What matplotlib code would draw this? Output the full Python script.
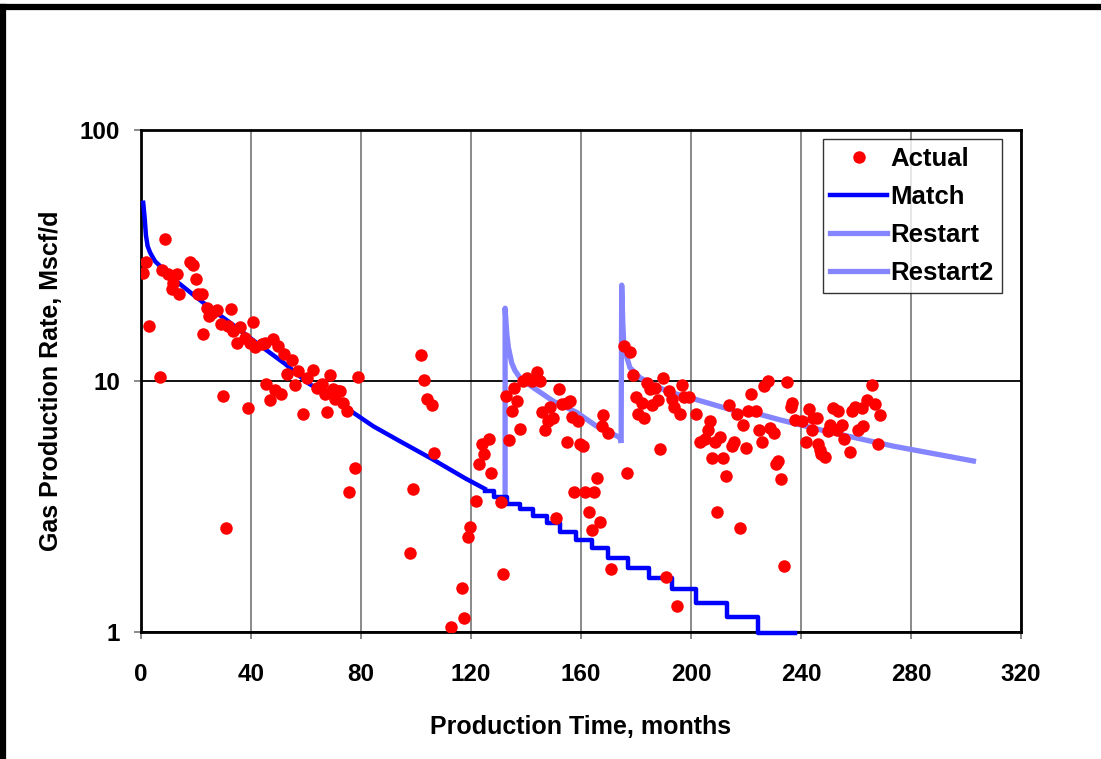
import matplotlib
matplotlib.use("Agg")
import matplotlib.pyplot as plt
from matplotlib.lines import Line2D

plt.rcParams['font.family'] = ['Liberation Sans', 'DejaVu Sans']
plt.rcParams['font.weight'] = 'bold'

# actual production data (month, Mscf/d)
actual_t = [0.8, 1.8, 2.9, 6.9, 7.7, 8.7, 9.9, 11.2, 11.8, 13.0, 13.8, 17.8, 19.0, 19.9,
            20.8, 22.0, 22.7, 23.9, 24.7, 25.7, 27.5, 29.1, 29.7, 30.8, 31.7, 32.7, 33.5,
            34.8, 36.0, 37.8, 39.0, 39.6, 40.8, 41.5, 43.9, 45.1, 45.5, 46.9, 48.1, 48.7,
            49.9, 50.8, 52.1, 53.0, 54.8, 56.0, 57.2, 58.8, 60.2, 62.4, 63.9, 65.7, 66.9,
            67.7, 68.7, 69.9, 70.5, 71.7, 72.4, 73.6, 74.8, 75.8, 77.9, 78.8, 97.8, 98.8,
            101.8, 102.9, 103.9, 105.7, 106.7, 112.7, 116.8, 117.6, 118.8, 119.8, 121.8,
            122.8, 123.9, 124.8, 126.5, 127.3, 130.8, 131.8, 132.7, 133.8, 134.8, 135.7,
            136.8, 137.8, 139.0, 140.2, 142.1, 143.9, 145.1, 145.7, 146.9, 148.1, 148.7,
            149.9, 150.8, 152.0, 153.0, 154.8, 154.8, 156.0, 156.8, 157.6, 159.0, 159.6,
            160.8, 161.5, 162.9, 163.9, 164.8, 165.7, 166.9, 167.5, 168.1, 169.9, 170.8,
            175.7, 176.8, 177.8, 178.8, 179.9, 180.8, 182.1, 183.0, 183.9, 185.1, 185.9,
            186.9, 187.9, 188.7, 189.9, 190.8, 192.0, 193.0, 193.9, 194.8, 196.0, 196.6,
            197.6, 199.1, 201.8, 203.3, 205.1, 206.3, 206.9, 207.5, 208.7, 209.5, 210.5,
            211.7, 212.7, 213.8, 214.8, 215.7, 216.8, 217.8, 218.8, 219.9, 220.8, 221.8,
            223.5, 224.7, 225.9, 226.7, 227.9, 228.7, 230.0, 230.8, 231.7, 232.7, 233.7,
            234.8, 236.4, 236.8, 237.8, 240.2, 241.8, 242.9, 243.9, 244.5, 245.7, 246.3,
            246.9, 247.3, 248.7, 249.7, 250.5, 251.8, 253.0, 253.6, 254.8, 255.7, 257.8,
            258.4, 259.6, 260.8, 262.1, 262.7, 263.9, 265.9, 266.9, 267.9, 268.7]
actual_q = [27.0, 29.9, 16.6, 10.4, 27.7, 36.7, 26.6, 23.2, 24.6, 26.7, 22.2, 29.9, 29.0, 25.6,
            22.2, 22.2, 15.4, 19.6, 18.1, 18.7, 19.1, 16.8, 8.7, 2.6, 16.6, 19.4, 15.8,
            14.2, 16.4, 14.9, 7.8, 14.2, 17.2, 13.6, 14.0, 14.2, 9.7, 8.4, 14.7, 9.2,
            13.8, 8.9, 12.8, 10.7, 12.1, 9.6, 11.0, 7.4, 10.3, 11.1, 9.4, 9.7, 8.9,
            7.5, 10.6, 9.3, 8.5, 9.1, 9.1, 8.2, 7.6, 3.6, 4.5, 10.4, 2.07, 3.7,
            12.7, 10.1, 8.5, 8.0, 5.15, 1.05, 1.5, 1.14, 2.39, 2.63, 3.32,
            4.69, 5.6, 5.1, 5.9, 4.3, 3.3, 1.7, 8.7, 5.8, 7.6, 9.4,
            8.3, 6.46, 10.0, 10.3, 10.0, 10.9, 10.0, 7.5, 6.4, 6.9, 7.9,
            7.1, 2.85, 9.3, 8.1, 8.2, 5.7, 8.3, 7.2, 3.6, 6.9, 5.6,
            5.5, 3.6, 3.0, 2.56, 3.6, 4.1, 2.75, 6.6, 7.3, 6.2, 1.78,
            13.8, 4.3, 13.1, 10.6, 8.6, 7.4, 8.2, 7.1, 9.8, 9.3, 8.0,
            9.4, 8.4, 5.35, 10.3, 1.66, 9.1, 8.5, 7.9, 1.27, 7.4, 9.6,
            8.6, 8.6, 7.4, 5.7, 5.9, 6.4, 6.9, 4.95, 5.7, 3.0, 6.0,
            4.95, 4.2, 8.0, 5.5, 5.7, 7.4, 2.6, 6.7, 5.4, 7.6, 8.85,
            7.6, 6.4, 5.7, 9.55, 10.0, 6.5, 6.2, 4.66, 4.8, 4.06, 1.83,
            9.9, 7.9, 8.2, 7.0, 6.9, 5.7, 7.7, 6.4, 7.1, 7.1, 5.6,
            5.3, 5.1, 5.0, 6.3, 6.7, 7.8, 6.4, 7.6, 6.7, 5.9, 5.2,
            7.6, 7.9, 6.4, 7.8, 6.6, 8.4, 9.6, 8.1, 5.6, 7.3]

# history match, smooth part
match_t = [0.8, 1.3, 1.8, 2.4, 3.3, 5.1, 8.1, 13.6, 19.6, 25.7, 31.7, 37.8, 42.7, 52.4,
           60.8, 69.3, 77.8, 84.5, 93.6, 105.7, 117.8, 125.0]
match_q = [51.3, 45.0, 38.0, 34.5, 32.5, 30.0, 27.9, 24.6, 21.8, 19.3, 17.3, 15.4, 14.0, 11.7,
           9.8, 8.6, 7.4, 6.6, 5.8, 4.9, 4.1, 3.72]
# history match, stepped tail
step_t = [125.0, 128.5, 133.0, 137.8, 142.7, 147.5, 152.4, 158.1, 163.9, 169.9, 177.2,
          184.7, 193.2, 201.7, 213.0, 224.5, 237.8]
step_q = [3.65, 3.45, 3.25, 3.09, 2.90, 2.73, 2.51, 2.32, 2.17, 1.98, 1.80,
          1.64, 1.49, 1.31, 1.15, 0.99, 0.99]

restart_t = [132.4, 132.4, 133.0, 133.6, 134.8, 136.0, 137.8, 142.7, 150.0, 158.4, 165.7,
             174.2, 174.4]
restart_q = [3.45, 19.5, 15.5, 13.6, 11.8, 11.0, 10.3, 9.4, 8.3, 7.5, 6.6, 5.95, 5.8]

restart2_t = [174.6, 174.8, 175.2, 175.6, 177.8, 181.5, 191.2, 200.8, 217.8, 225.1, 232.4,
              249.3, 273.6, 302.7]
restart2_q = [5.8, 24.1, 17.0, 13.6, 11.3, 10.3, 9.1, 8.5, 7.5, 7.36, 7.0, 6.3, 5.5, 4.8]

fig = plt.figure(figsize=(11.01, 7.59), dpi=100)
ax = fig.add_axes([141 / 1101, 1 - 632 / 759, 880 / 1101, 502 / 759])

light = '#8585ff'
ax.plot(actual_t, actual_q, 'o', color='red', markersize=9, markeredgewidth=0,
        label='Actual', zorder=4)
ax.plot(match_t, match_q, color='blue', lw=3.2, label='Match', zorder=3)
ax.plot(step_t, step_q, color='blue', lw=3.2, drawstyle='steps-post', zorder=3,
        clip_on=False)
ax.plot(restart_t, restart_q, color=light, lw=3.8, label='Restart', zorder=2)
ax.plot(restart2_t, restart2_q, color=light, lw=3.8, label='Restart2', zorder=2)

ax.set_yscale('log')
ax.set_ylim(1, 100)
ax.set_xlim(0, 320)
ax.set_xticks(range(0, 321, 40))
ax.set_yticks([1, 10, 100])
ax.set_yticklabels(['1', '10', '100'])
ax.minorticks_off()

ax.grid(axis='x', color='#808080', lw=1.3)
ax.grid(axis='y', color='black', lw=1.3)
ax.set_axisbelow(True)
for s in ax.spines.values():
    s.set_linewidth(2)
ax.tick_params(labelsize=17.5, length=5, width=1.3, color='#808080')
ax.tick_params(axis='x', pad=17)
ax.tick_params(axis='y', pad=10)

ax.set_xlabel('Production Time, months', fontsize=18, fontweight='bold', labelpad=21)
ax.set_ylabel('Gas Production Rate, Mscf/d', fontsize=18, fontweight='bold', labelpad=12)

leg = ax.legend(loc='upper right', bbox_to_anchor=(0.978, 0.982), borderaxespad=0,
                fontsize=18.5, frameon=True, fancybox=False, handlelength=2.2,
                handletextpad=0.15, labelspacing=0.55, borderpad=0.3)
leg.get_frame().set_edgecolor('black')
leg.get_frame().set_linewidth(1)

# outer chart frame (only top and left show)
fig.add_artist(Line2D([0, 1], [1 - 7 / 759, 1 - 7 / 759], color='black', lw=4.5))
fig.add_artist(Line2D([3 / 1101, 3 / 1101], [0, 1 - 7 / 759], color='black', lw=4.5))

fig.savefig('out.png', dpi=100)
